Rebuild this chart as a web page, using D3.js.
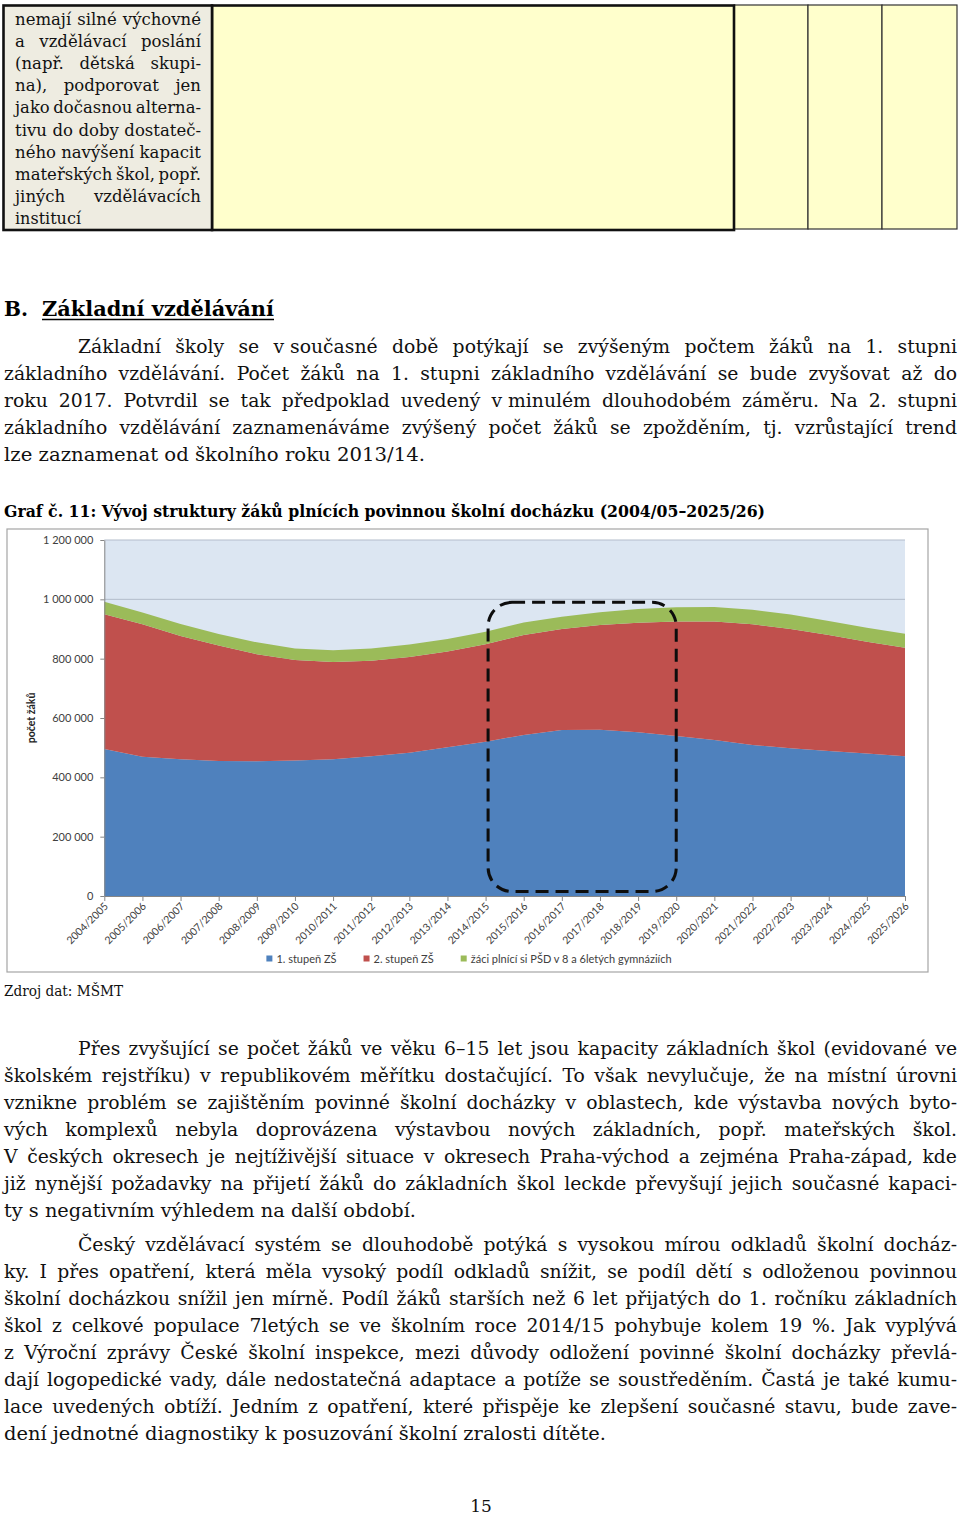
<!DOCTYPE html>
<html><head><meta charset="utf-8">
<script src="https://cdn.jsdelivr.net/npm/d3@7"></script>
<style>body{margin:0;background:#fff}svg{display:block}</style>
</head><body>
<svg id="page" width="960" height="1517"></svg>
<script>
// ---------- chart data ----------
const categories = ["2004/2005","2005/2006","2006/2007","2007/2008","2008/2009","2009/2010","2010/2011","2011/2012","2012/2013","2013/2014","2014/2015","2015/2016","2016/2017","2017/2018","2018/2019","2019/2020","2020/2021","2021/2022","2022/2023","2023/2024","2024/2025","2025/2026"];
const stupen1 = [495500,469600,460700,455000,454000,457000,461000,471000,483000,501000,520000,543000,559600,560700,552000,539000,526000,509000,498000,489000,480000,471000];
const stupen2 = [454100,446400,415300,389000,361000,338500,328000,322000,323000,323000,329000,337000,340400,352800,369000,386000,399000,407000,402000,391000,377000,366000];
const gymnazia = [42000,40000,41000,39000,40000,39000,39000,41000,42000,42000,42000,42000,41000,43000,46000,48000,49000,49000,49000,47000,47000,47000];
const seriesNames = ["1. stupeň ZŠ","2. stupeň ZŠ","žáci plnící si PŠD v 8 a 6letých gymnáziích"];
const seriesColors = ["#4f81bd","#c0504d","#9bbb59"];
const yTicks = [0,200000,400000,600000,800000,1000000,1200000];
const yTitle = "počet žáků";
const highlight = {from:"2014/2015", to:"2019/2020", top:990000, bottom:15000};

// ---------- page text ----------
const tableLines = ["nemají silné výchovné","a vzdělávací poslání","(např. dětská skupi-","na), podporovat jen","jako dočasnou alterna-","tivu do doby dostateč-","ného navýšení kapacit","mateřských škol, popř.","jiných vzdělávacích","institucí"];
const para1 = ["Základní školy se v\u00a0současné době potýkají se zvýšeným počtem žáků na 1. stupni","základního vzdělávání. Počet žáků na 1. stupni základního vzdělávání se bude zvyšovat až do","roku 2017. Potvrdil se tak předpoklad uvedený v\u00a0minulém dlouhodobém záměru. Na 2. stupni","základního vzdělávání zaznamenáváme zvýšený počet žáků se zpožděním, tj. vzrůstající trend","lze zaznamenat od školního roku 2013/14."];
const para2 = ["Přes zvyšující se počet žáků ve věku 6–15 let jsou kapacity základních škol (evidované ve","školském rejstříku) v republikovém měřítku dostačující. To však nevylučuje, že na místní úrovni","vznikne problém se zajištěním povinné školní docházky v oblastech, kde výstavba nových byto-","vých komplexů nebyla doprovázena výstavbou nových základních, popř. mateřských škol.","V českých okresech je nejtíživější situace v okresech Praha-východ a zejména Praha-západ, kde","již nynější požadavky na přijetí žáků do základních škol leckde převyšují jejich současné kapaci-","ty s negativním výhledem na další období."];
const para3 = ["Český vzdělávací systém se dlouhodobě potýká s vysokou mírou odkladů školní docház-","ky. I přes opatření, která měla vysoký podíl odkladů snížit, se podíl dětí s odloženou povinnou","školní docházkou snížil jen mírně. Podíl žáků starších než 6 let přijatých do 1. ročníku základních","škol z celkové populace 7letých se ve školním roce 2014/15 pohybuje kolem 19 %. Jak vyplývá","z Výroční zprávy České školní inspekce, mezi důvody odložení povinné školní docházky převlá-","dají logopedické vady, dále nedostatečná adaptace a potíže se soustředěním. Častá je také kumu-","lace uvedených obtíží. Jedním z opatření, které přispěje ke zlepšení současné stavu, bude zave-","dení jednotné diagnostiky k posuzování školní zralosti dítěte."];

const svg = d3.select("#page");
svg.append("rect").attr("width",960).attr("height",1517).attr("fill","#fff");

const SERIF = "'DejaVu Serif', 'Liberation Serif', serif";
const measurer = svg.append("text").attr("visibility","hidden").attr("x",-1000).attr("y",-1000);
function measure(str, f){
  measurer.attr("font-family",f.family).attr("font-size",f.size).attr("font-weight",f.weight||"normal").text(str);
  return measurer.node().getComputedTextLength();
}
function textLine(g, str, x0, x1, y, f, justify){
  const t = g.append("text").attr("y",y).attr("font-family",f.family).attr("font-size",f.size)
    .attr("font-weight",f.weight||"normal").attr("fill",f.fill||"#000");
  if(!justify){
    t.attr("x",x0).text(str);
    if(x1!=null) t.attr("textLength",x1-x0).attr("lengthAdjust","spacingAndGlyphs");
    return t;
  }
  const words = str.split(" ");
  const ws = words.map(w=>measure(w,f));
  const minGap = f.size*0.22;
  let gap = (x1-x0-d3.sum(ws))/(words.length-1);
  let k = 1;
  if(gap < minGap){
    // compress glyphs slightly so that a minimal word gap remains
    k = (x1-x0-minGap*(words.length-1))/d3.sum(ws);
    gap = minGap;
  }
  let x = x0;
  words.forEach((w,i)=>{
    const ts = t.append("tspan").attr("x",x).text(w);
    if(k<1) ts.attr("textLength",ws[i]*k).attr("lengthAdjust","spacingAndGlyphs");
    x += ws[i]*k+gap;
  });
  return t;
}

// ---------- table ----------
const tbl = svg.append("g");
[[734,808],[808,882],[882,957]].forEach(([a,b])=>{
  tbl.append("rect").attr("x",a).attr("y",5).attr("width",b-a).attr("height",224).attr("fill","#ffffcc").attr("stroke","#333").attr("stroke-width",1.2);
});
tbl.append("rect").attr("x",212).attr("y",5.5).attr("width",522).attr("height",224.5).attr("fill","#ffffcc").attr("stroke","#111").attr("stroke-width",2.6);
tbl.append("rect").attr("x",3.5).attr("y",5.5).attr("width",208.5).attr("height",224.5).attr("fill","#eeece1").attr("stroke","#111").attr("stroke-width",2.6);
const fTable = {family:SERIF, size:16.5, fill:"#111"};
tableLines.forEach((l,i)=>{
  const last = i===tableLines.length-1;
  textLine(tbl, l, 15, last?81:201, 25+i*22.1, fTable, !last);
});

// ---------- heading & paragraphs ----------
const fBody = {family:SERIF, size:18.8, fill:"#111"};
const hB = {family:SERIF, size:21, weight:"bold"};
textLine(svg, "B.", 4, 28, 316, hB, false);
textLine(svg, "Základní vzdělávání", 42, 274, 316, hB, false);
svg.append("line").attr("x1",42).attr("x2",274).attr("y1",319.5).attr("y2",319.5).attr("stroke","#000").attr("stroke-width",1.5);

function paragraph(lines, y0, lastEnd){
  lines.forEach((l,i)=>{
    const last = i===lines.length-1;
    const x0 = i===0 ? 78 : 4;
    textLine(svg, l, x0, last?lastEnd:957, y0+i*27, fBody, !last);
  });
}
paragraph(para1, 353, 425);
textLine(svg, "Graf č. 11: Vývoj struktury žáků plnících povinnou školní docházku (2004/05–2025/26)", 4, 765, 517, {family:SERIF,size:16,weight:"bold"}, false);
textLine(svg, "Zdroj dat: MŠMT", 4, 123, 996, {family:SERIF,size:15,fill:"#111"}, false);
paragraph(para2, 1055, 416);
paragraph(para3, 1251, 606);
svg.append("text").attr("x",481).attr("y",1512).attr("text-anchor","middle").attr("font-family",SERIF).attr("font-size",17).attr("fill","#111").text("15");

// ---------- chart ----------
const ch = svg.append("g");
ch.append("rect").attr("x",7).attr("y",529).attr("width",921).attr("height",443).attr("fill","#fff").attr("stroke","#a5a5a5").attr("stroke-width",1.2);
const x = d3.scalePoint().domain(categories).range([104.3,905]);
const y = d3.scaleLinear().domain([0,1200000]).range([896,540]);
ch.append("rect").attr("x",x.range()[0]).attr("y",y(1200000)).attr("width",x.range()[1]-x.range()[0]).attr("height",y(0)-y(1200000)).attr("fill","#dce6f2");
ch.append("g").selectAll("line").data(yTicks.filter(d=>d>0)).join("line")
  .attr("x1",x.range()[0]).attr("x2",x.range()[1]).attr("y1",d=>y(d)).attr("y2",d=>y(d))
  .attr("stroke","#b3bccb").attr("stroke-width",1);

const rows = categories.map((c,i)=>({cat:c, s1:stupen1[i], s2:stupen2[i], g:gymnazia[i]}));
const keys = ["s1","s2","g"];
const stacked = d3.stack().keys(keys)(rows);
const area = d3.area().x(d=>x(d.data.cat)).y0(d=>y(d[0])).y1(d=>y(d[1]));
ch.append("g").selectAll("path").data(stacked).join("path").attr("d",area).attr("fill",(d,i)=>seriesColors[i]);

const fmt = d3.formatLocale({decimal:",",thousands:" ",grouping:[3],currency:["",""]}).format(",d");
const LBL = "Lato, 'Open Sans', sans-serif";
const yAxis = ch.append("g").attr("transform",`translate(${x.range()[0]},0)`)
  .call(d3.axisLeft(y).tickValues(yTicks).tickFormat(fmt).tickSize(4).tickSizeOuter(0).tickPadding(7));
yAxis.select(".domain").attr("stroke","#868686");
yAxis.selectAll(".tick line").attr("stroke","#868686");
yAxis.selectAll(".tick text").attr("font-family",LBL).attr("font-size",11).attr("fill","#404040");

const xAxis = ch.append("g").attr("transform",`translate(0,${y(0)})`)
  .call(d3.axisBottom(x).tickSize(5).tickSizeOuter(0));
xAxis.select(".domain").attr("stroke","#868686");
xAxis.selectAll(".tick line").attr("stroke","#868686");
xAxis.selectAll(".tick text").attr("font-family",LBL).attr("font-size",10.5).attr("fill","#404040")
  .attr("text-anchor","end").attr("dy",null).attr("y",0)
  .attr("transform","translate(4,11) rotate(-45)");

ch.append("text").attr("transform",`translate(35,${(y(600000))}) rotate(-90)`).attr("text-anchor","middle")
  .attr("font-family",LBL).attr("font-size",10.5).attr("font-weight","bold").attr("fill","#222").text(yTitle);

// highlight (dashed rounded rectangle)
ch.append("rect")
  .attr("x",x(highlight.from)+2.5).attr("y",y(highlight.top))
  .attr("width",x(highlight.to)-x(highlight.from)-2.5).attr("height",y(highlight.bottom)-y(highlight.top))
  .attr("rx",24).attr("ry",24).attr("fill","none").attr("stroke","#0d0d0d").attr("stroke-width",3)
  .attr("stroke-dasharray","13,7");

// legend
const fLeg = {family:LBL, size:11};
const legW = seriesNames.map(n=>measure(n,fLeg));
const sq = 6, sqGap = 4, itemGap = 27;
const total = d3.sum(legW) + seriesNames.length*(sq+sqGap) + itemGap*(seriesNames.length-1);
let lx = 469 - total/2;
const leg = ch.append("g");
seriesNames.forEach((n,i)=>{
  leg.append("rect").attr("x",lx).attr("y",955.5).attr("width",sq).attr("height",sq).attr("fill",seriesColors[i]);
  leg.append("text").attr("x",lx+sq+sqGap).attr("y",962.5).attr("font-family",LBL).attr("font-size",11).attr("fill","#404040").text(n);
  lx += sq+sqGap+legW[i]+itemGap;
});
</script>
</body></html>
